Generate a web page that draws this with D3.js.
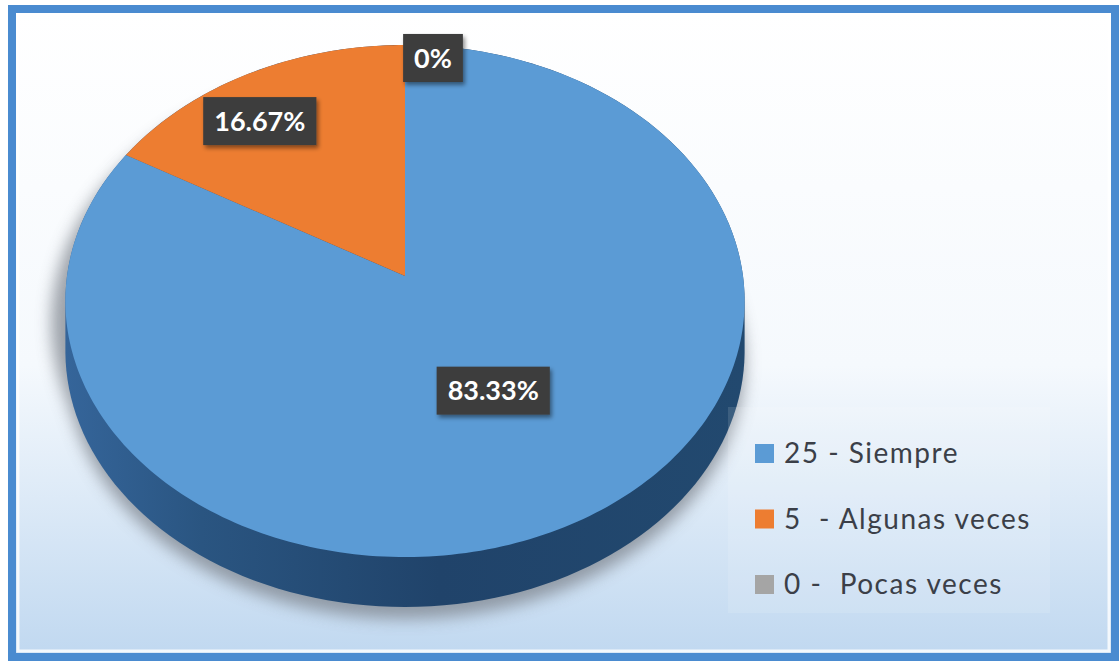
<!DOCTYPE html>
<html>
<head>
<meta charset="utf-8">
<script src="https://cdn.jsdelivr.net/npm/d3@7"></script>
<style>
  body { margin: 0; background: #fff; }
  svg { display: block; font-family: Lato, "Open Sans", sans-serif; }
</style>
</head>
<body>
<div id="chart-area"></div>
<script>
// Data
const categories = ['25 - Siempre', '5  - Algunas veces', '0 -  Pocas veces'];
const values = [25, 5, 0];
const percentLabels = ['83.33%', '16.67%', '0%'];
const colors = ['#5b9bd5', '#ed7d31', '#a5a5a5'];

const W = 1119, H = 662;

// Pie geometry (tilted disc with light perspective)
const cx = 405, cy = 276, rx = 338, ry = 253.6, persp = 0.0977, depth = 50;

const svg = d3.select('#chart-area')
  .append('svg')
  .attr('width', W)
  .attr('height', H);

const defs = svg.append('defs');

const bg = defs.append('linearGradient').attr('id', 'bg')
  .attr('x1', 0).attr('y1', 0).attr('x2', 0).attr('y2', 1);
bg.append('stop').attr('offset', '0%').attr('stop-color', '#ffffff');
bg.append('stop').attr('offset', '55%').attr('stop-color', '#f5f9fd');
bg.append('stop').attr('offset', '100%').attr('stop-color', '#c0d8f0');

const side = defs.append('linearGradient').attr('id', 'side')
  .attr('x1', 0).attr('y1', 0).attr('x2', 1).attr('y2', 0);
side.append('stop').attr('offset', '0%').attr('stop-color', '#35659a');
side.append('stop').attr('offset', '20%').attr('stop-color', '#2a5581');
side.append('stop').attr('offset', '55%').attr('stop-color', '#20436a');
side.append('stop').attr('offset', '100%').attr('stop-color', '#22496f');

defs.append('filter').attr('id', 'blur')
  .attr('x', '-20%').attr('y', '-20%').attr('width', '140%').attr('height', '140%')
  .append('feGaussianBlur').attr('stdDeviation', 8);

const lblShadow = defs.append('filter').attr('id', 'lblShadow')
  .attr('x', '-20%').attr('y', '-20%').attr('width', '150%').attr('height', '160%');
lblShadow.append('feDropShadow')
  .attr('dx', 2).attr('dy', 3).attr('stdDeviation', 2)
  .attr('flood-color', '#000').attr('flood-opacity', 0.45);

// Frame
svg.append('rect')
  .attr('x', 12).attr('y', 9)
  .attr('width', 1103).attr('height', 648)
  .attr('fill', 'url(#bg)')
  .attr('stroke', '#4a8bd0')
  .attr('stroke-width', 8);
svg.append('rect')
  .attr('x', 18).attr('y', 15)
  .attr('width', 1091).attr('height', 636)
  .attr('fill', 'none')
  .attr('stroke', '#ffffff')
  .attr('stroke-opacity', 0.8)
  .attr('stroke-width', 3);

// Project an angle (clockwise from top) and radial fraction onto the screen
const project = (a, f, dy) => {
  const u = Math.sin(a) * f, v = -Math.cos(a) * f;
  const s = 1 / (1 - persp * v);
  return [cx + rx * u * s, cy + ry * v * s + (dy || 0)];
};

const pie = d3.pie().sort(null).value(d => d)(values);

const samples = d3.range(0, 361, 2).map(d => d * Math.PI / 180);
const topPts = samples.map(a => project(a, 1));
const botPts = samples.map(a => project(a, 1, depth));

// Shadow under the pie
const g = svg.append('g');
g.append('path')
  .attr('d', d3.line()(d3.polygonHull(samples.map(a => project(a, 1, depth + 12)).concat(topPts.map(p => [p[0] - 14, p[1] + 22])))) + 'Z')
  .attr('fill', '#7d838c')
  .attr('opacity', 0.75)
  .attr('filter', 'url(#blur)');

// Side wall
g.append('path')
  .attr('d', d3.line()(d3.polygonHull(topPts.concat(botPts))) + 'Z')
  .attr('fill', 'url(#side)');

// Top faces
const slicePath = (d) => {
  if (d.endAngle - d.startAngle <= 0) return null;
  const n = Math.max(2, Math.ceil((d.endAngle - d.startAngle) / 0.02));
  const pts = [project(0, 0)];
  for (let i = 0; i <= n; i++) {
    pts.push(project(d.startAngle + (d.endAngle - d.startAngle) * i / n, 1));
  }
  return d3.line()(pts) + 'Z';
};

g.selectAll('.slice')
  .data(pie.filter(d => d.value > 0))
  .enter()
  .append('path')
  .attr('class', 'slice')
  .attr('d', slicePath)
  .attr('fill', d => colors[d.index]);

// Data labels
const labelPos = [
  { f: 0.5, dx: 0, dy: 0 },
  { f: 0.75, dx: -26, dy: 0 },
  { f: 1, dx: 28, dy: 13 }
];

const labels = g.selectAll('.lbl')
  .data(pie)
  .enter()
  .append('g')
  .attr('class', 'lbl')
  .attr('transform', d => {
    const mid = (d.startAngle + d.endAngle) / 2;
    const p = project(mid, labelPos[d.index].f);
    return 'translate(' + (p[0] + labelPos[d.index].dx) + ',' + (p[1] + labelPos[d.index].dy) + ')';
  });

labels.append('rect')
  .attr('fill', '#3d3d3d')
  .attr('filter', 'url(#lblShadow)');

labels.append('text')
  .attr('text-anchor', 'middle')
  .attr('dy', '0.36em')
  .attr('fill', '#ffffff')
  .attr('font-size', '27px')
  .attr('font-weight', 'bold')
  .text(d => percentLabels[d.index]);

labels.each(function () {
  const bb = d3.select(this).select('text').node().getBBox();
  d3.select(this).select('rect')
    .attr('x', bb.x - 11)
    .attr('y', -24)
    .attr('width', bb.width + 22)
    .attr('height', 48);
});

// Legend
svg.append('rect')
  .attr('x', 728).attr('y', 407)
  .attr('width', 322).attr('height', 206)
  .attr('fill', '#ffffff')
  .attr('opacity', 0.12);

const legendY = d3.scalePoint()
  .domain(categories)
  .range([453, 584]);

const legend = svg.selectAll('.legend')
  .data(categories)
  .enter()
  .append('g')
  .attr('class', 'legend')
  .attr('transform', d => 'translate(755,' + legendY(d) + ')');

legend.append('rect')
  .attr('x', 0).attr('y', -9)
  .attr('width', 19).attr('height', 19)
  .attr('fill', (d, i) => colors[i]);

legend.append('text')
  .attr('x', 29)
  .attr('dy', '0.36em')
  .attr('fill', '#3b3f48')
  .attr('font-size', '28px')
  .attr('letter-spacing', '1.5px')
  .style('white-space', 'pre')
  .text(d => d);
</script>
</body>
</html>
